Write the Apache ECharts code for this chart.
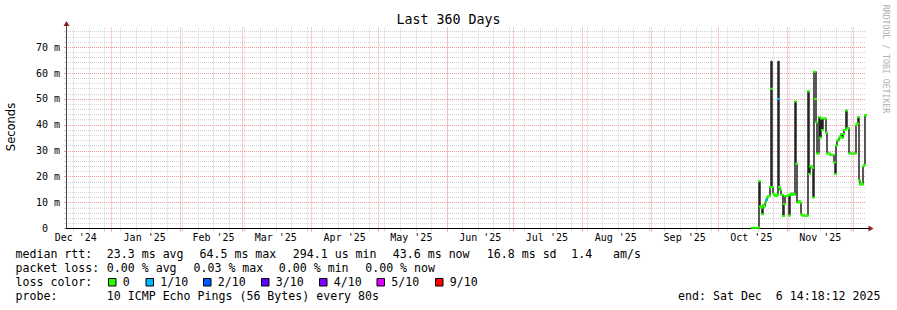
<!DOCTYPE html>
<html><head><meta charset="utf-8">
<script src="https://cdn.jsdelivr.net/npm/echarts@6/dist/echarts.min.js"></script>
<style>html,body{margin:0;padding:0;background:#fff}#c{width:897px;height:310px}</style>
</head><body><div id="c"></div>
<script>
// ---- data ----
const titleText = 'Last 360 Days';
const rangeStart = '2024-12-11T14:18:12Z';
const rangeEnd = '2025-12-06T14:18:12Z';
const monthStarts = ['2025-01-01','2025-02-01','2025-03-01','2025-04-01','2025-05-01','2025-06-01','2025-07-01','2025-08-01','2025-09-01','2025-10-01','2025-11-01','2025-12-01'];
const monthLabelDates = ['2024-12-16','2025-01-16','2025-02-16','2025-03-16','2025-04-16','2025-05-16','2025-06-16','2025-07-16','2025-08-16','2025-09-16','2025-10-16','2025-11-16'];
const monthLabels = ["Dec '24","Jan '25","Feb '25","Mar '25","Apr '25","May '25","Jun '25","Jul '25","Aug '25","Sep '25","Oct '25","Nov '25"];
const firstWeekLine = '2024-12-15';
const yTicks = [0,10,20,30,40,50,60,70];
const yMinorTicks = [2,4,6,8,12,14,16,18,22,24,26,28,32,34,36,38,42,44,46,48,52,54,56,58,62,64,66,68,72,74,76];
const yMax = 77.6;
// samples (ms), one per consolidated step
const dataStart = '2025-10-16T07:06:00Z';
const sampleHours = 10.8;
const medianMs = [
  0.3,0.3,0.2941,0.3,0.3,0.3,0.4,
  18.2,
  8.5,8.0,5.5,9.0,8.5,10.0,11.0,12.0,12.5,12.5,16.0,
  54.0,
  16.0,13.5,13.0,12.5,12.5,13.0,
  50.0,
  16.0,15.0,13.0,13.0,4.8,9.5,12.5,12.5,12.5,12.8,5.0,13.0,13.5,13.0,13.5,13.0,
  49.0,25.0,10.0,10.0,10.5,10.0,5.5,5.0,5.0,5.0,4.8,5.0,5.0,
  53.0,21.0,24.0,24.0,23.5,12.0,
  60.5,50.0,41.0,29.0,29.0,
  43.0,35.0,42.5,38.0,42.5,42.5,42.5,37.0,
  29.0,29.0,29.0,28.5,28.5,28.5,28.5,
  25.5,21.0,32.0,34.0,34.0,35.0,35.5,36.5,35.0,36.5,38.0,38.0,45.6,38.7,38.7,
  29.0,29.0,29.0,29.0,29.0,29.0,29.0,
  40.0,40.5,43.0,18.6,17.0,17.5,17.0,24.0,24.5,43.7,43.6
];
const peakIndex = [19, 26, 63];
const peakMs = [64.5, 64.5, 60.5];
const lossIndex = [14, 26];
const lossLevel = [1, 1];
const lossColors = ['#26ff00','#00b8ff','#0059ff','#5e00ff','#7e00ff','#dd00ff','#ff0000'];
const lossLabels = ['0','1/10','2/10','3/10','4/10','5/10','9/10'];
const statsRow1 = ['median rtt:','23.3 ms avg','64.5 ms max','294.1 us min','43.6 ms now','16.8 ms sd','1.4   am/s'];
const statsRow2 = ['packet loss:','0.00 % avg','0.03 % max','0.00 % min','0.00 % now'];
const probeText = ['probe:','10 ICMP Echo Pings (56 Bytes) every 80s'];
const endText = 'end: Sat Dec  6 14:18:12 2025';
const watermark = 'RRDTOOL / TOBI OETIKER';
const yName = 'Seconds';

// ---- layout / style ----
const G = {left: 66, top: 27.5, width: 800, height: 201};
const MONO = '"DejaVu Sans Mono", monospace';
const minorColor = '#d2d2d2', majorColor = '#ef9a9a', arrowColor = '#8b2020';

const DAY = 86400000;
const t0 = Date.parse(rangeStart), t1 = Date.parse(rangeEnd);
const monthTs = monthStarts.map(d => Date.parse(d + 'T00:00:00Z'));
const labelTs = monthLabelDates.map(d => Date.parse(d + 'T00:00:00Z'));
const weekTs = [];
for (let t = Date.parse(firstWeekLine + 'T00:00:00Z'); t < t1; t += 7 * DAY) weekTs.push(t);

const ds = Date.parse(dataStart), step = sampleHours * 3600000;
const sampleT = medianMs.map((_, i) => ds + i * step);
const smokeVals = medianMs.slice();
peakIndex.forEach((k, j) => { smokeVals[k] = peakMs[j]; });
const lossOf = medianMs.map(() => 0);
lossIndex.forEach((k, j) => { lossOf[k] = lossLevel[j]; });

const smokeData = sampleT.map((t, i) => [t, smokeVals[i]]);
smokeData.push([ds + medianMs.length * step, smokeVals[smokeVals.length - 1]]);

const medianSeries = [];
lossColors.forEach((col, L) => {
  const d = [];
  medianMs.forEach((m, i) => {
    if (lossOf[i] === L) { d.push([sampleT[i], m], [sampleT[i] + step, m], [sampleT[i] + step, '-']); }
  });
  if (d.length) medianSeries.push({
    type: 'line', data: d, xAxisIndex: 0, yAxisIndex: 0, symbol: 'none', connectNulls: false,
    lineStyle: {color: col, width: 2, cap: 'square'}, z: 6, silent: true, animation: false
  });
});

function txt(s, x, y, extra) {
  return Object.assign({type: 'text', x: x, y: y, silent: true,
    style: {text: s, x: 0, y: 0, fill: '#000', font: '11.6px ' + MONO, align: 'left', textAlign: 'left', verticalAlign: 'middle', textVerticalAlign: 'middle'}}, extra || {});
}
const graphics = [];
graphics.push(txt(titleText, 448.5, 19, {style: {text: titleText, fill: '#000', font: '13.3px ' + MONO, align: 'center', textAlign: 'center', verticalAlign: 'middle', textVerticalAlign: 'middle'}}));
graphics.push({type: 'text', x: 10.5, y: 127, rotation: Math.PI / 2, silent: true,
  style: {text: yName, fill: '#000', font: '11.5px "DejaVu Sans", sans-serif', align: 'center', textAlign: 'center', verticalAlign: 'middle', textVerticalAlign: 'middle'}});
graphics.push({type: 'text', x: 886, y: 59, rotation: -Math.PI / 2, silent: true,
  style: {text: watermark, fill: '#b0b0b0', font: '8.2px ' + MONO, align: 'center', textAlign: 'center', verticalAlign: 'middle', textVerticalAlign: 'middle'}});
const r1x = [15.5, 106.8, 199.5, 292.8, 392.8, 486.8, 571.2];
statsRow1.forEach((s, i) => graphics.push(txt(s, r1x[i], 254.3)));
const r2x = [15.5, 106.8, 193.5, 278.8, 365.2];
statsRow2.forEach((s, i) => graphics.push(txt(s, r2x[i], 268.3)));
graphics.push(txt('loss color:', 15.5, 282.3));
const sqx = [108.5, 146, 203.5, 261.5, 319.5, 377, 435.5];
lossColors.forEach((c, i) => {
  graphics.push({type: 'rect', silent: true, shape: {x: sqx[i], y: 278.5, width: 7.5, height: 7.5}, style: {fill: c, stroke: '#000', lineWidth: 1}});
  graphics.push(txt(lossLabels[i], sqx[i] + 14.3, 282.3));
});
graphics.push(txt(probeText[0], 15.5, 296));
graphics.push(txt(probeText[1], 106.8, 296));
graphics.push(txt(endText, 880.5, 296, {style: {text: endText, fill: '#000', font: '11.6px ' + MONO, align: 'right', textAlign: 'right', verticalAlign: 'middle', textVerticalAlign: 'middle'}}));
// axis arrows
const x0 = G.left, yb = G.top + G.height, xr = G.left + G.width;
graphics.push({type: 'polygon', silent: true, shape: {points: [[x0 + 0.5, G.top - 6.5], [x0 - 2.5, G.top - 1.5], [x0 + 3.5, G.top - 1.5]]}, style: {fill: arrowColor}});
graphics.push({type: 'line', silent: true, shape: {x1: x0 + 0.5, y1: G.top - 2, x2: x0 + 0.5, y2: G.top}, style: {stroke: '#444', lineWidth: 1}});
graphics.push({type: 'polygon', silent: true, shape: {points: [[xr + 7.5, yb], [xr + 2.5, yb - 3], [xr + 2.5, yb + 3]]}, style: {fill: arrowColor}});
graphics.push({type: 'line', silent: true, shape: {x1: xr, y1: yb, x2: xr + 3, y2: yb}, style: {stroke: '#000', lineWidth: 1}});

const chart = echarts.init(document.getElementById('c'), null, {renderer: 'svg'});
chart.setOption({
  animation: false,
  backgroundColor: '#ffffff',
  grid: {left: G.left, top: G.top, width: G.width, height: G.height, containLabel: false},
  xAxis: [
    {type: 'value', min: t0, max: t1, position: 'bottom', z: 4,
      axisLine: {show: true, onZero: false, lineStyle: {color: '#000', width: 1}},
      axisTick: {show: false}, splitLine: {show: false},
      axisLabel: {customValues: labelTs, formatter: v => monthLabels[labelTs.indexOf(v)] || '',
        fontFamily: MONO, fontSize: 10, color: '#000', margin: 4, hideOverlap: false, showMinLabel: true, showMaxLabel: true}},
    {type: 'value', min: t0, max: t1, position: 'bottom', z: 0,
      axisLine: {show: false}, axisLabel: {show: false},
      axisTick: {show: true, customValues: weekTs, length: 3, lineStyle: {color: minorColor}},
      splitLine: {show: true, lineStyle: {color: minorColor, width: 1, type: [1, 1]}}},
    {type: 'value', min: t0, max: t1, position: 'bottom', z: 1,
      axisLine: {show: false}, axisLabel: {show: false},
      axisTick: {show: true, customValues: monthTs, length: 3, lineStyle: {color: majorColor}},
      splitLine: {show: true, lineStyle: {color: majorColor, width: 1, type: [1, 1]}}}
  ],
  yAxis: [
    {type: 'value', min: 0, max: yMax, position: 'left', z: 3,
      axisLine: {show: true, onZero: false, lineStyle: {color: '#444', width: 1}},
      axisTick: {show: true, customValues: yTicks, length: 2, lineStyle: {color: majorColor}},
      splitLine: {show: true, lineStyle: {color: majorColor, width: 1, type: [1, 1]}},
      axisLabel: {customValues: yTicks, margin: 6, fontFamily: MONO, fontSize: 10, color: '#000',
        formatter: v => v === 0 ? '{z|0}' : v + ' m',
        rich: {z: {fontFamily: MONO, fontSize: 10, color: '#000', padding: [0, 12, 0, 0]}}}},
    {type: 'value', min: 0, max: yMax, position: 'left', z: 0,
      axisLine: {show: false}, axisLabel: {show: false},
      axisTick: {show: true, customValues: yMinorTicks, length: 2, lineStyle: {color: minorColor}},
      splitLine: {show: true, lineStyle: {color: minorColor, width: 1, type: [1, 1]}}}
  ],
  series: [
    {type: 'line', data: smokeData, xAxisIndex: 0, yAxisIndex: 0, step: 'end', symbol: 'none',
      lineStyle: {color: '#222222', width: 1.5}, z: 5, silent: true, animation: false}
  ].concat(medianSeries),
  graphic: graphics
});
</script></body></html>
